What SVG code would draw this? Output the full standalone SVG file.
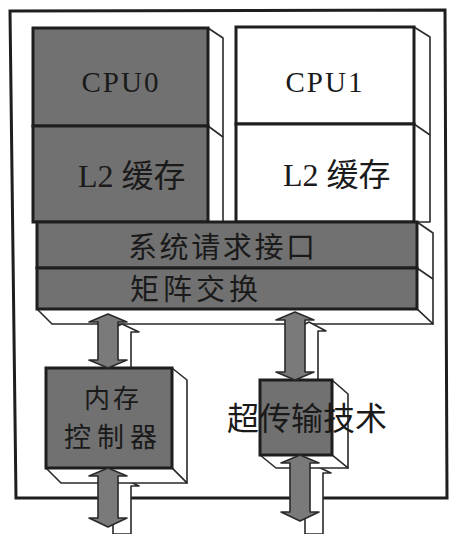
<svg xmlns="http://www.w3.org/2000/svg" width="449" height="534" viewBox="0 0 449 534">
<style>
.bg{fill:#ffffff}
.frame{fill:none;stroke:#1e1e1e;stroke-width:3}
.dark{fill:#717171;stroke:#1e1e1e;stroke-width:3}
.light{fill:#ffffff;stroke:#1e1e1e;stroke-width:3}
.face{fill:#ffffff;stroke:#2a2a2a;stroke-width:1.6;stroke-linejoin:round}
.arr{fill:#7a7a7a;stroke:#2a2a2a;stroke-width:1.6;stroke-linejoin:round}
.shadow{fill:#ffffff;stroke:#2a2a2a;stroke-width:1.6;stroke-linejoin:round}
.lat{font-family:"Liberation Serif","Noto Sans CJK SC",serif;fill:#1a1a1a}
.cjk{font-family:"Noto Sans CJK SC","Liberation Serif",sans-serif;fill:#1a1a1a}
</style>
<rect class="bg" x="0" y="0" width="449" height="534"/>
<path class="frame" d="M10,11 L445,10 L447,498 L16,498 Z"/>

<g id="cpu0">
  <polygon class="face" points="208,28 223,38 223,222 208,222"/>
  <line x1="208" y1="126" x2="223" y2="137" stroke="#2a2a2a" stroke-width="1.6"/>
  <rect class="dark" x="33" y="28" width="175" height="98"/>
  <text class="lat" x="121" y="92" font-size="29" text-anchor="middle" letter-spacing="2">CPU0</text>
</g>
<g id="l2-0">
  <rect class="dark" x="33" y="126" width="175" height="96"/>
  <text class="lat" x="78" y="187" font-size="32">L2 缓存</text>
</g>

<g id="cpu1">
  <polygon class="face" points="414,27 430,37 430,222 414,222"/>
  <line x1="414" y1="124" x2="430" y2="135" stroke="#2a2a2a" stroke-width="1.6"/>
  <rect class="light" x="236" y="27" width="178" height="97"/>
  <text class="lat" x="325" y="92" font-size="29" text-anchor="middle" letter-spacing="2">CPU1</text>
</g>
<g id="l2-1">
  <rect class="light" x="236" y="124" width="178" height="98"/>
  <text class="lat" x="283" y="186" font-size="32">L2 缓存</text>
</g>

<g id="bus">
  <polygon class="face" points="417,222 433,233 433,324 417,309"/>
  <polygon class="face" points="37,309 417,309 433,324 52,324"/>
  <line x1="417" y1="268" x2="433" y2="279" stroke="#2a2a2a" stroke-width="1.6"/>
</g>
<g id="sri">
  <rect class="dark" x="37" y="222" width="380" height="46"/>
  <text class="cjk" x="128" y="258" font-size="29" textLength="187" lengthAdjust="spacing">系统请求接口</text>
</g>
<g id="matrix">
  <rect class="dark" x="37" y="268" width="380" height="41"/>
  <text class="cjk" x="130" y="300" font-size="29" textLength="128" lengthAdjust="spacing">矩阵交换</text>
</g>

<g id="connectors">
  <polygon class="shadow" points="122,324 139,332 131,332 131,374 122,378 113,374 113,332 105,332"/>
  <polygon class="shadow" points="309,322 326,331 318,331 318,388 309,392 300,388 300,331 292,331"/>
  <polygon class="shadow" points="122,478 139,486 131,486 131,534 113,534 113,486 105,486"/>
  <polygon class="shadow" points="314,465 331,473 323,473 323,534 305,534 305,473 297,473"/>
</g>

<g id="memctl">
  <polygon class="face" points="172,368 187,380 187,483 172,468"/>
  <polygon class="face" points="46,468 172,468 187,483 61,483"/>
  <rect class="dark" x="46" y="368" width="126" height="100"/>
  <text class="cjk" x="84" y="408" font-size="26" textLength="55" lengthAdjust="spacing">内存</text>
  <text class="cjk" x="64" y="447" font-size="27" textLength="93" lengthAdjust="spacing">控制器</text>
</g>

<g id="hyper">
  <polygon class="face" points="332,380 348,394 348,468 332,455"/>
  <polygon class="face" points="260,455 332,455 348,468 276,468"/>
  <rect class="dark" x="260" y="380" width="72" height="75"/>
</g>

<g id="connectors-main">
  <polygon class="arr" points="108,314 127,322 118,322 118,360 127,360 108,368 89,360 98,360 98,322 89,322"/>
  <polygon class="arr" points="295,312 314,320 305,320 305,372 314,372 295,380 276,372 285,372 285,320 276,320"/>
  <polygon class="arr" points="108,468 127,476 118,476 118,518 127,518 108,527 89,518 98,518 98,476 89,476"/>
  <polygon class="arr" points="300,455 319,463 310,463 310,512 319,512 300,521 281,512 290,512 290,463 281,463"/>
</g>

<text id="hyper-label" class="cjk" x="307" y="430" font-size="32" text-anchor="middle">超传输技术</text>
</svg>
